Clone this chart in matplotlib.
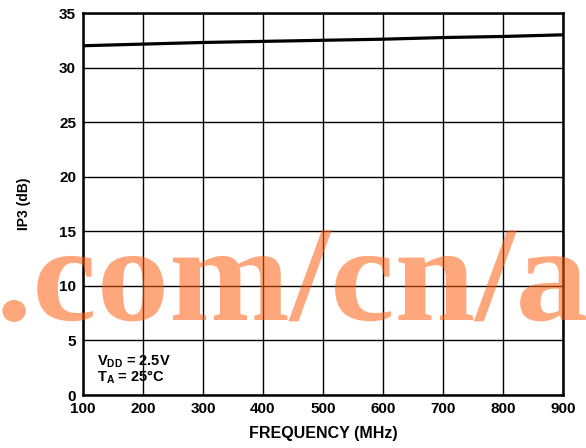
import matplotlib
matplotlib.use("Agg")
import matplotlib.pyplot as plt
from matplotlib.font_manager import FontProperties
from matplotlib.patches import PathPatch
from matplotlib.textpath import TextPath
from matplotlib.transforms import Affine2D

# IP3 vs frequency, VDD = 2.5V, TA = 25C
FREQ_MHZ = [100, 200, 300, 400, 500, 600, 700, 800, 900]
IP3_DB = [32.0, 32.15, 32.3, 32.4, 32.5, 32.6, 32.75, 32.85, 33.0]

X_TICKS = [100, 200, 300, 400, 500, 600, 700, 800, 900]
Y_TICKS = [0, 5, 10, 15, 20, 25, 30, 35]

WATERMARK = ".com/cn/ad"

plt.rcParams["font.family"] = ["Liberation Sans", "DejaVu Sans"]
plt.rcParams["font.weight"] = "bold"

fig = plt.figure(figsize=(5.86, 4.48), dpi=100)
ax = fig.add_axes([83 / 586, 53 / 448, 480 / 586, 382 / 448])

ax.plot(FREQ_MHZ, IP3_DB, color="black", linewidth=2.3, zorder=3)

ax.set_xlim(100, 900)
ax.set_ylim(0, 35)
ax.set_xticks(X_TICKS)
ax.set_yticks(Y_TICKS)
ax.set_xticklabels([str(v) for v in X_TICKS], fontsize=11, fontweight="bold")
ax.set_yticklabels([str(v) for v in Y_TICKS], fontsize=11, fontweight="bold")
ax.tick_params(length=0, pad=5)
ax.grid(True, color="black", linewidth=1.0)
ax.set_axisbelow(True)
for sp in ax.spines.values():
    sp.set_linewidth(1.8)

ax.set_xlabel("FREQUENCY (MHz)", fontsize=11.5, fontweight="bold", labelpad=7)
ax.set_ylabel("IP3 (dB)", fontsize=10, fontweight="bold", labelpad=20)

ax.text(0.029, 0.078, r"$\mathregular{V_{DD}}$ = 2.5V", transform=ax.transAxes,
        fontsize=10.5, fontweight="bold", va="baseline", ha="left")
ax.text(0.029, 0.034, r"$\mathregular{T_A}$ = 25°C", transform=ax.transAxes,
        fontsize=10.5, fontweight="bold", va="baseline", ha="left")

# site watermark across the middle of the plot, drawn as a path so it can be
# stretched a little wider than the serif font's natural proportions
wm_path = TextPath((0, 0), WATERMARK, size=1,
                   prop=FontProperties(family="Liberation Serif", weight="bold"))
wm_tf = Affine2D().scale(145, 136).translate(-4, 448 - 320)
fig.patches.append(PathPatch(wm_tf.transform_path(wm_path), transform=None,
                             facecolor="#FF6010", edgecolor="none", alpha=0.55,
                             zorder=10))

fig.savefig("out.png", dpi=100)
